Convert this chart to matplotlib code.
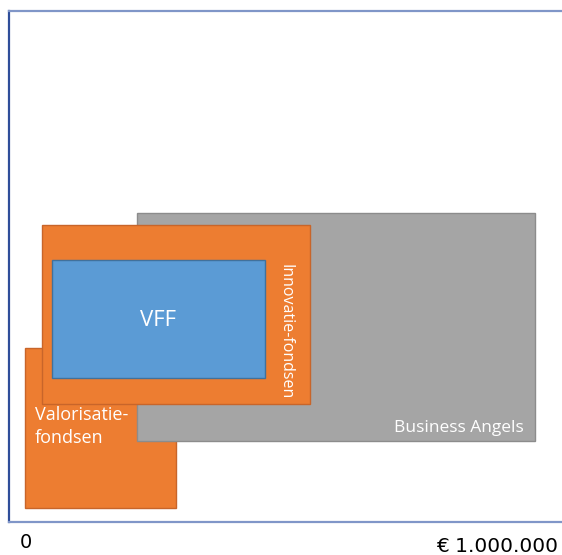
"""Overlapping financing ranges: VFF, Innovatie-fondsen, Valorisatiefondsen, Business Angels."""

import matplotlib

matplotlib.use("Agg")
import matplotlib.pyplot as plt
from matplotlib.patches import Rectangle

plt.rcParams["font.family"] = ["Open Sans", "DejaVu Sans"]

# rectangles in axis units (0-100): x0, x1, y0, y1 - drawn in this order
NAMES = ["Valorisatie-\nfondsen", "Business Angels", "Innovatie-fondsen", "VFF"]
X0 = [3.0, 23.2, 6.05, 7.86]
X1 = [30.3, 95.1, 54.5, 46.3]
Y0 = [2.7, 15.8, 23.1, 28.2]
Y1 = [34.0, 60.4, 58.1, 51.2]
FILLS = ["#ED7D31", "#A5A5A5", "#ED7D31", "#5B9BD5"]
EDGES = ["#C8652A", "#8C8C8C", "#C8652A", "#41719C"]

X_LABELS = ["0", "€ 1.000.000"]


def main():
    fig = plt.figure(figsize=(5.62, 5.55), dpi=100)
    ax = fig.add_axes([8.5 / 562, 1 - 522 / 555, 1 - 8.5 / 562, 511.5 / 555])
    ax.set_xlim(0, 100)
    ax.set_ylim(0, 100)
    ax.set_xticks([])
    ax.set_yticks([])

    for x0, x1, y0, y1, fc, ec in zip(X0, X1, Y0, Y1, FILLS, EDGES):
        ax.add_patch(Rectangle((x0, y0), x1 - x0, y1 - y0, facecolor=fc,
                               edgecolor=ec, linewidth=1.0))

    # labels
    ax.text(X0[0] + 1.7, 22.7, NAMES[0], color="white", fontsize=13,
            ha="left", va="top", linespacing=1.4)
    ax.text(X1[1] - 2.1, Y0[1] + 1.0, NAMES[1], color="white", fontsize=12.5,
            ha="right", va="bottom")
    ax.text(50.1, 37.3, NAMES[2], color="white",
            fontsize=11.5, rotation=-90, ha="center", va="center")
    ax.text((X0[3] + X1[3]) / 2, (Y0[3] + Y1[3]) / 2 - 0.3, NAMES[3],
            color="white", fontsize=16, ha="center", va="center")

    ax.spines["right"].set_visible(False)
    ax.spines["left"].set_color("#2F4E9A")
    ax.spines["left"].set_linewidth(1.6)
    for side in ["top", "bottom"]:
        ax.spines[side].set_color("#8096C8")
        ax.spines[side].set_linewidth(1.6)

    fig.text(26 / 562, 1 - 543 / 555, X_LABELS[0], fontsize=14,
             family=["DejaVu Sans"], ha="center", va="center",
             color="black")
    fig.text(558 / 562, 1 - 546 / 555, X_LABELS[1], fontsize=14.5,
             family=["DejaVu Sans"], ha="right", va="center",
             color="black")

    fig.savefig("out.png", dpi=100)
    plt.close(fig)


if __name__ == "__main__":
    main()
